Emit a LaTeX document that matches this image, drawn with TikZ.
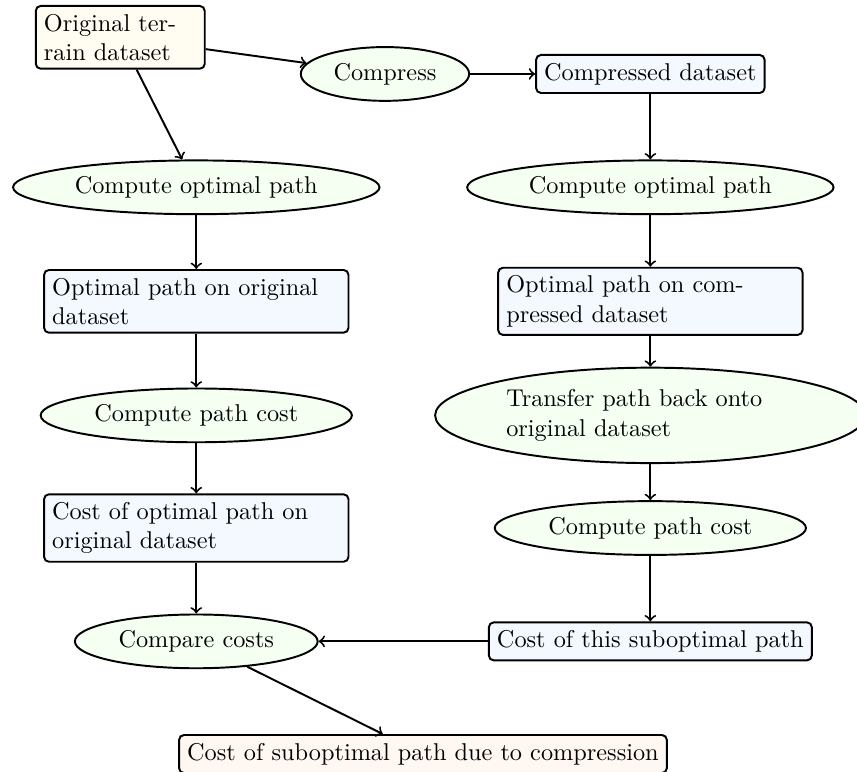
\documentclass[tikz,border=0pt]{standalone}
\usetikzlibrary{shapes.geometric,arrows}

\definecolor{startfill}{rgb}{1,0.99,0.95}
\definecolor{datafill}{rgb}{0.955,0.975,1}
\definecolor{procfill}{rgb}{0.96,1,0.95}
\definecolor{endfill}{rgb}{1,0.97,0.95}

\tikzset{
startbox/.style={rectangle, draw, thick, rounded corners=2pt, fill=startfill, align=left},
databox/.style={rectangle, draw, thick, rounded corners=2pt, fill=datafill, align=left},
endbox/.style={rectangle, draw, thick, rounded corners=2pt, fill=endfill},
procell/.style={ellipse, draw, thick, fill=procfill, align=left},
flow/.style={->, thick}
}

\begin{document}
\begin{tikzpicture}
\useasboundingbox (0,0) rectangle (12.40,-11.16);
\node[startbox, text width=2.21cm](orig) at (1.74,-0.54) {Original terrain dataset};
\node[procell](compress) at (5.57,-1.07) {Compress};
\node[databox](compd) at (9.41,-1.07) {Compressed dataset};
\node[procell](opta) at (2.84,-2.71) {Compute optimal path};
\node[procell](optb) at (9.41,-2.71) {Compute optimal path};
\node[databox, text width=4.17cm](patha) at (2.84,-4.36) {Optimal path on original dataset};
\node[databox, text width=4.17cm](pathb) at (9.41,-4.36) {Optimal path on compressed dataset};
\node[procell](costa) at (2.84,-6.01) {Compute path cost};
\node[procell, text width=4.17cm](transfer) at (9.41,-6.01) {Transfer path back onto original dataset};
\node[databox, text width=4.17cm](costopt) at (2.84,-7.64) {Cost of optimal path on original dataset};
\node[procell](costb) at (9.41,-7.64) {Compute path cost};
\node[procell](compare) at (2.84,-9.28) {Compare costs};
\node[databox](costsub) at (9.41,-9.28) {Cost of this suboptimal path};
\node[endbox](result) at (6.12,-10.91) {Cost of suboptimal path due to compression};
\draw[flow] (orig)--(compress);
\draw[flow] (orig)--(opta);
\draw[flow] (compress)--(compd);
\draw[flow] (compd)--(optb);
\draw[flow] (opta)--(patha);
\draw[flow] (patha)--(costa);
\draw[flow] (costa)--(costopt);
\draw[flow] (costopt)--(compare);
\draw[flow] (optb)--(pathb);
\draw[flow] (pathb)--(transfer);
\draw[flow] (transfer)--(costb);
\draw[flow] (costb)--(costsub);
\draw[flow] (costsub)--(compare);
\draw[flow] (compare)--(result);
\end{tikzpicture}
\end{document}
